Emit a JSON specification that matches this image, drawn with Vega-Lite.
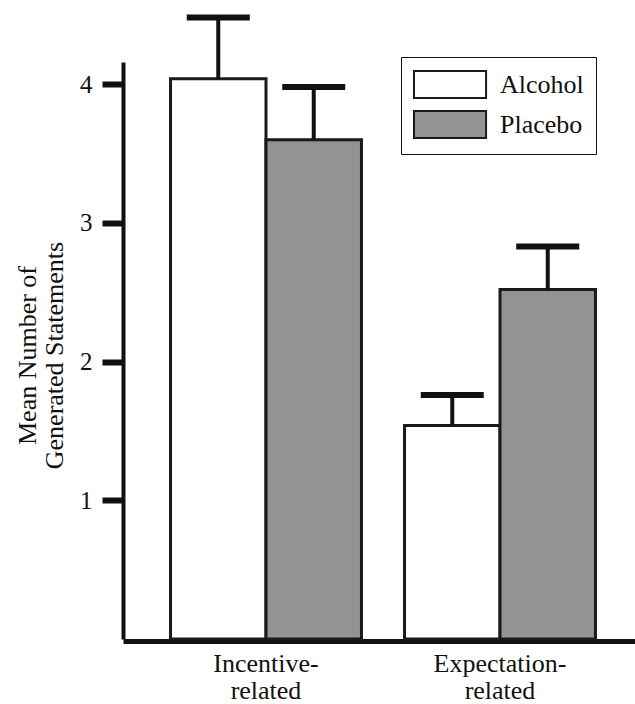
{
  "$schema": "https://vega.github.io/schema/vega-lite/v6.json",
  "width": 512,
  "height": 577,
  "autosize": {"type": "none"},
  "padding": {"left": 123, "top": 62, "right": 0, "bottom": 65},
  "background": "white",
  "data": {
    "values": [
      {"category": "Incentive-related", "condition": "Alcohol", "mean": 4.04, "err": 4.48},
      {"category": "Incentive-related", "condition": "Placebo", "mean": 3.60, "err": 3.98},
      {"category": "Expectation-related", "condition": "Alcohol", "mean": 1.54, "err": 1.76},
      {"category": "Expectation-related", "condition": "Placebo", "mean": 2.52, "err": 2.83}
    ]
  },
  "encoding": {
    "x": {
      "field": "category",
      "type": "nominal",
      "sort": ["Incentive-related", "Expectation-related"],
      "scale": {"paddingInner": 0.184, "paddingOuter": 0.186, "align": 0.546},
      "axis": {
        "title": null,
        "ticks": false,
        "tickSize": 0,
        "offset": 2,
        "domainWidth": 5,
        "domainColor": "#111111",
        "labelAngle": 0,
        "labelFont": "Liberation Serif",
        "labelFontSize": 26,
        "labelColor": "#111111",
        "labelBaseline": "top",
        "labelPadding": 9,
        "labelLineHeight": 27,
        "labelExpr": "[split(datum.label, '-')[0] + '-', split(datum.label, '-')[1]]"
      }
    },
    "xOffset": {
      "field": "condition",
      "type": "nominal",
      "sort": ["Alcohol", "Placebo"],
      "scale": {"paddingInner": 0, "paddingOuter": 0}
    }
  },
  "layer": [
    {
      "mark": {"type": "bar", "stroke": "#1a1a1a", "strokeWidth": 3, "opacity": 1},
      "encoding": {
        "y": {
          "field": "mean",
          "type": "quantitative",
          "scale": {"domain": [0, 4.16], "nice": false, "zero": true},
          "axis": {
            "values": [1, 2, 3, 4],
            "format": "d",
            "grid": false,
            "title": ["Mean Number of", "Generated Statements"],
            "titleFont": "Liberation Serif",
            "titleFontSize": 26,
            "titleFontWeight": "normal",
            "titleColor": "#111111",
            "titleLineHeight": 27,
            "titleX": -96,
            "titleY": 293,
            "titleAlign": "center",
            "titleBaseline": "middle",
            "domainColor": "#111111",
            "domainWidth": 4,
            "tickColor": "#111111",
            "tickWidth": 6,
            "tickSize": 21,
            "labelFont": "Liberation Serif",
            "labelFontSize": 25,
            "labelColor": "#111111",
            "labelPadding": 10
          }
        },
        "fill": {
          "field": "condition",
          "type": "nominal",
          "scale": {"domain": ["Alcohol", "Placebo"], "range": ["#ffffff", "#939393"]},
          "legend": {
            "title": null,
            "orient": "none",
            "legendX": 278,
            "legendY": -5,
            "padding": 12,
            "strokeColor": "#111111",
            "fillColor": "#ffffff",
            "symbolType": "M-1,-0.93H3.97V0.93H-1Z",
            "symbolSize": 841,
            "symbolStrokeWidth": 2,
            "symbolOpacity": 1,
            "labelFont": "Liberation Serif",
            "labelFontSize": 26,
            "labelColor": "#111111",
            "labelOffset": 56,
            "rowPadding": 5,
            "encode": {
              "symbols": {
                "update": {
                  "stroke": {"signal": "datum.value === 'Alcohol' ? '#c0c0c0' : '#8a8a8a'"},
                  "strokeWidth": {"value": 2}
                }
              }
            }
          }
        }
      }
    },
    {
      "mark": {"type": "rule", "color": "#111111", "strokeWidth": 4},
      "encoding": {
        "y": {"field": "mean", "type": "quantitative"},
        "y2": {"field": "err"}
      }
    },
    {
      "mark": {"type": "tick", "color": "#111111", "size": 63, "thickness": 6, "opacity": 1},
      "encoding": {
        "y": {"field": "err", "type": "quantitative"}
      }
    }
  ],
  "config": {
    "view": {"stroke": null},
    "font": "Liberation Serif"
  }
}
